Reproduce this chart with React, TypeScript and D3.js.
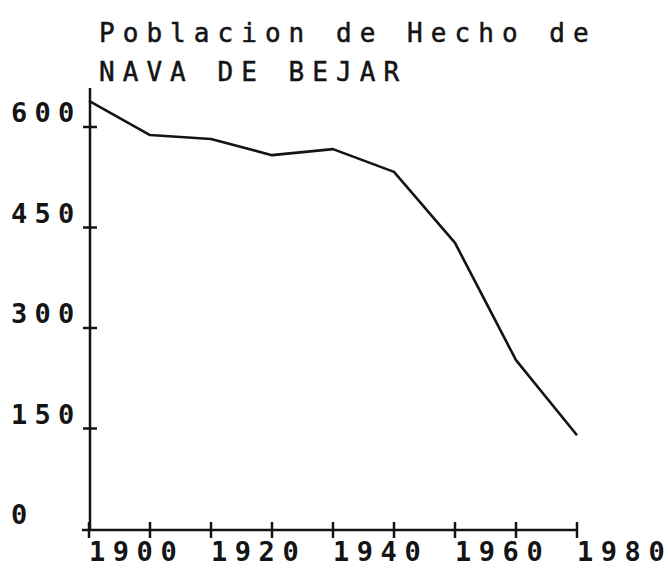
import React, { useEffect, useRef } from "react";
import * as d3 from "d3";

// census data, Nava de Bejar
const years = [1900, 1910, 1920, 1930, 1940, 1950, 1960, 1970, 1980];
const population = [639, 588, 582, 558, 567, 533, 427, 252, 140];

const yTicks = [0, 150, 300, 450, 600];
const xTicks = [1900, 1910, 1920, 1930, 1940, 1950, 1960, 1970, 1980];
const xLabels = [1900, 1920, 1940, 1960, 1980];
const titleLines = ["Poblacion de Hecho de", "NAVA DE BEJAR"];

// printer-style fixed pitch: one x per character
const charX = (x0: number, s: string, pitch: number) =>
  Array.from(String(s)).map((c, i) => (x0 + i * pitch).toFixed(1)).join(" ");

export default function App() {
  const svgRef = useRef<SVGSVGElement>(null);

  useEffect(() => {
    const w = 668;
    const h = 568;
    const ink = "#141414";
    const font = "'DejaVu Sans Mono', monospace";

    const svg = d3.select(svgRef.current)
      .attr("width", w)
      .attr("height", h)
      .style("background", "#ffffff");
    svg.selectAll("*").remove();

    // scales
    const x = d3.scaleLinear().domain([1900, 1980]).range([89, 577]);
    const y = d3.scaleLinear().domain([0, 600]).range([529, 127]);

    // title
    svg.append("g")
      .selectAll("text")
      .data(titleLines)
      .join("text")
      .attr("x", d => charX(99, d, 23.7))
      .attr("y", (d, i) => 42 + i * 39)
      .attr("font-family", font)
      .attr("font-size", 26)
      .attr("stroke", ink)
      .attr("stroke-width", 0.5)
      .attr("fill", ink)
      .text(d => d);

    // y axis
    const yAxis = svg.append("g");
    yAxis.append("line")
      .attr("x1", 90).attr("x2", 90)
      .attr("y1", 88).attr("y2", y(0) + 1)
      .attr("stroke", ink).attr("stroke-width", 2.5);
    yAxis.selectAll(".ytick")
      .data(yTicks.filter(d => d > 0))
      .join("line")
      .attr("class", "ytick")
      .attr("x1", 83).attr("x2", 97)
      .attr("y1", d => y(d)).attr("y2", d => y(d))
      .attr("stroke", ink).attr("stroke-width", 2.5);
    yAxis.selectAll(".ylabel")
      .data(yTicks)
      .join("text")
      .attr("class", "ylabel")
      .attr("x", d => charX(11, String(d), 23.5))
      .attr("y", d => y(d) - 5)
      .attr("font-family", font)
      .attr("font-size", 27)
      .attr("font-weight", "bold")
      .attr("fill", ink)
      .text(d => d);

    // x axis
    const xAxis = svg.append("g");
    xAxis.append("line")
      .attr("x1", 82).attr("x2", x(1980))
      .attr("y1", y(0) + 1).attr("y2", y(0) + 1)
      .attr("stroke", ink).attr("stroke-width", 2.5);
    xAxis.selectAll(".xtick")
      .data(xTicks)
      .join("line")
      .attr("class", "xtick")
      .attr("x1", d => x(d)).attr("x2", d => x(d))
      .attr("y1", y(0) - 7).attr("y2", y(0) + 9)
      .attr("stroke", ink).attr("stroke-width", 2.5);
    xAxis.selectAll(".xlabel")
      .data(xLabels)
      .join("text")
      .attr("class", "xlabel")
      .attr("x", d => charX(x(d), String(d), 23.8))
      .attr("y", 561)
      .attr("font-family", font)
      .attr("font-size", 27)
      .attr("font-weight", "bold")
      .attr("fill", ink)
      .text(d => d);

    // population line
    const line = d3.line<number>()
      .x((d, i) => x(years[i]))
      .y(d => y(d));
    svg.append("path")
      .datum(population)
      .attr("d", line)
      .attr("fill", "none")
      .attr("stroke", ink)
      .attr("stroke-width", 2.6)
      .attr("stroke-linejoin", "round");
  }, []);

  return (
    <div style={{ position: "absolute", left: 0, top: 0 }}>
      <svg ref={svgRef} style={{ display: "block" }}></svg>
    </div>
  );
}
